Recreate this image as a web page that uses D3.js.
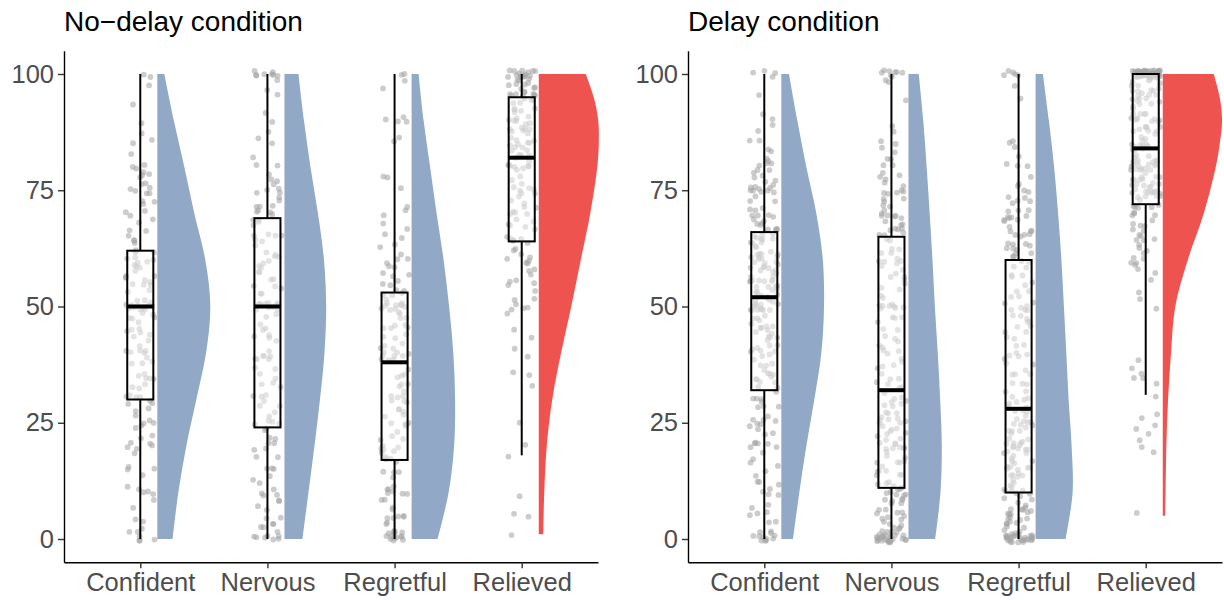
<!DOCTYPE html>
<html><head><meta charset="utf-8">
<script src="https://cdn.jsdelivr.net/npm/d3@7"></script>
<style>body{margin:0;background:#fff} text{font-family:"Liberation Sans",Arial,Helvetica,sans-serif}</style>
</head><body><svg id="chart" width="1224" height="600"></svg>
<script>
const categories = ["Confident","Nervous","Regretful","Relieved"];
const panelTitles = ["No−delay condition","Delay condition"];
const yTicks = [0,25,50,75,100];

// ---- ratings (jittered points), No-delay condition ----
const noDelayConfident = [100,100,98,93,90,88,86,85,82,81,80,80,79,78,78,77,77,76,76,75,75,75,74,73,72,72,71,70,70,69,68,67,66,65,64,64,63,
62,62,61,61,60,60,60,60,59,59,58,58,57,57,56,56,55,55,55,54,54,53,53,52,52,51,51,50,50,50,50,50,50,50,50,50,50,50,
49,48,48,47,46,45,45,45,44,43,42,42,41,40,40,40,40,39,38,37,36,35,35,35,34,33,33,32,31,30,30,30,30,31,38,44,47,
29,28,27,26,25,25,25,25,24,23,22,21,20,20,20,19,18,16,15,15,14,12,11,10,10,9,8,6,5,4,3,2,1,0,0,0,0];
const noDelayNervous = [100,100,100,100,100,100,100,99,98,97,95,92,90,88,86,85,82,80,80,79,78,77,76,75,75,75,75,74,73,72,72,71,70,70,70,70,69,
68,68,67,66,65,65,65,64,63,62,61,60,60,60,60,59,58,57,56,55,55,55,54,53,52,51,50,50,50,50,50,50,50,50,50,50,66,58,
49,48,47,46,45,45,44,43,42,41,40,40,40,39,38,37,36,35,35,34,33,32,31,30,30,30,29,28,27,26,25,25,25,25,24,44,38,
23,22,21,20,20,20,19,18,17,16,15,15,14,13,12,11,10,10,10,9,8,7,6,5,5,4,3,3,2,1,1,0,0,0,0,0,0];
const noDelayRegretful = [100,100,99,97,91,90,90,90,86,85,78,77,75,72,70,70,68,66,65,64,63,62,61,60,60,60,59,58,57,57,56,55,55,55,54,54,53,
53,52,52,51,51,50,50,50,50,50,50,50,49,48,48,47,46,45,45,45,44,43,42,42,41,40,40,40,40,39,39,38,38,38,46,44,41,49,
37,36,35,35,34,33,32,31,30,30,30,30,29,28,27,26,25,25,25,25,24,23,22,21,20,20,20,20,19,18,18,17,17,33,28,22,27,
16,15,15,14,13,12,11,10,10,10,10,9,8,8,7,6,5,5,5,4,4,3,3,2,2,2,1,1,1,0,0,0,0,0,0,0,0,0];
const noDelayRelieved = [100,100,100,100,100,100,100,100,100,100,100,100,100,100,100,99,99,99,98,98,98,97,97,97,97,96,96,96,96,95,95,95,95,95,95,95,95,
94,94,93,93,92,92,91,91,90,90,90,90,90,89,89,88,88,87,87,86,86,85,85,85,85,85,84,84,83,83,83,82,82,82,86,88,91,93,
81,80,80,80,80,80,79,79,78,77,76,75,75,75,75,75,74,73,72,71,70,70,70,70,69,68,68,67,66,65,65,65,64,64,77,72,67,
63,62,62,61,61,60,60,60,59,58,57,57,56,55,55,54,53,52,51,50,50,50,49,48,45,44,41,40,36,35,33,25,20,18,9,6,4,1];

// ---- ratings (jittered points), Delay condition ----
const delayConfident = [100,100,100,100,96,92,90,89,88,86,85,84,83,82,82,81,80,80,80,80,79,78,78,77,77,76,76,75,75,75,75,75,75,74,74,73,72,72,71,71,70,70,70,70,70,69,69,68,68,68,67,67,67,66,66,
65,65,65,64,64,63,63,62,62,61,61,60,60,60,60,60,60,59,59,58,58,57,57,57,56,56,55,55,55,55,54,54,54,53,53,53,52,52,52,52,65,63,61,59,57,55,53,64,62,58,56,54,60,60,55,
51,51,50,50,50,50,50,50,50,50,50,50,49,49,48,48,47,47,46,46,45,45,45,44,44,43,43,42,42,41,41,40,40,40,40,39,39,38,38,37,37,36,36,35,35,35,34,34,33,33,32,32,47,43,38,
31,30,30,30,29,28,28,27,26,25,25,25,25,24,24,23,22,21,20,20,20,20,19,18,17,16,15,15,14,13,12,11,10,10,10,9,8,7,6,5,5,4,3,2,2,1,1,0,0,0,0,0,0,0,0];
const delayNervous = [100,100,100,100,100,100,100,100,99,98,94,88,87,86,85,83,82,81,80,80,79,78,77,76,75,75,75,75,74,73,72,72,71,70,70,70,70,69,69,68,68,67,67,66,66,66,65,65,76,73,71,69,67,78,84,
64,63,62,61,60,60,60,60,59,58,57,56,55,55,54,53,52,51,50,50,50,50,50,50,49,48,47,46,45,45,44,43,42,41,40,40,40,39,38,37,36,35,35,34,33,32,32,62,57,52,47,43,38,34,58,
31,30,30,30,29,28,27,26,25,25,25,25,24,23,22,21,20,20,20,20,19,18,17,16,15,15,15,14,13,12,12,11,11,28,26,22,18,14,24,21,17,13,30,27,23,19,16,29,20,25,15,12,19,22,26,
10,10,10,10,9,9,8,8,7,7,6,6,5,5,5,5,4,4,3,3,3,2,2,2,1,1,1,1,0,0,0,0,0,0,0,0,0,0,0,0,0,0,0,0,0,0,0,0,0,0,2,4,6,8,10];
const delayRegretful = [100,100,100,100,100,97,95,86,85,84,82,81,80,80,78,77,76,75,75,74,73,72,71,70,70,70,70,69,68,68,67,67,66,66,65,65,65,64,64,63,63,62,62,62,61,61,61,60,60,72,69,66,63,74,68,
59,58,57,56,55,55,54,53,52,51,50,50,50,50,50,49,48,47,46,45,45,44,43,42,41,40,40,40,39,38,37,36,35,35,34,33,32,31,30,30,30,29,29,28,28,56,52,47,43,38,33,31,44,48,36,
27,26,25,25,25,25,24,23,22,21,20,20,20,20,19,18,17,16,15,15,15,14,13,12,11,10,10,26,24,22,19,17,14,12,11,23,21,18,16,13,27,25,20,15,10,22,18,12,24,19,16,11,21,14,17,
9,9,8,8,7,7,6,6,5,5,5,5,4,4,3,3,3,2,2,2,1,1,1,1,0,0,0,0,0,0,0,0,0,0,0,0,0,0,0,0,0,0,0,0,0,0,0,3,5,7,2,4,6,8,9];
const delayRelieved = [100,100,100,100,100,100,100,100,100,100,100,100,100,100,100,100,100,100,100,100,100,100,100,100,100,100,100,100,100,100,
100,100,100,100,100,100,100,100,100,100,100,100,100,100,100,100,100,100,100,100,100,100,100,100,100,100,100,100,99,99,
99,98,98,97,97,96,96,95,95,95,95,95,94,94,93,93,92,92,91,91,90,90,90,90,90,90,89,89,88,88,88,87,87,86,86,85,85,85,85,85,85,84,84,84,97,93,89,86,92,96,91,87,94,88,98,
83,83,82,82,81,81,80,80,80,80,80,80,79,79,78,78,77,77,76,76,75,75,75,75,75,75,74,74,73,73,72,72,72,83,81,79,77,75,73,82,78,76,74,80,80,79,77,73,75,81,78,74,76,82,72,
71,70,70,70,70,69,68,68,67,66,65,65,65,64,63,62,61,60,60,60,59,58,57,55,53,51,50,38,37,36,35,34,33,31,27,26,25,24,22,21,19,18,5,68,66,63,62];

// ---- boxplot statistics [lower whisker, Q1, median, Q3, upper whisker] ----
const noDelayBox = [[0,30,50,62,100],[0,24,50,69,100],[0,17,38,53,100],[18,64,82,95,100]];
const delayBox   = [[0,32,52,66,100],[0,11,32,65,100],[0,10,28,60,100],[31,72,84,100,100]];

// ---- half-violin densities [rating, density] ----
const noDelayDensity = [
  [[0,15.3],[10,21],[20,29],[30,39],[40,48.7],[50,53],[60,48],[70,37],[80,27],[90,16.5],[100,7]],
  [[0,18],[10,24],[20,30],[30,35.5],[40,40],[50,41.7],[60,39.5],[70,33.5],[80,26],[90,19.5],[100,14]],
  [[0,26],[10,37],[20,42.5],[30,43.5],[40,41.7],[50,37.5],[60,32],[70,25],[80,18.5],[90,12],[100,7]],
  [[1,4.5],[10,5.5],[20,8],[30,13.5],[40,22.3],[50,32.5],[60,42],[70,51.5],[80,58.5],[85,60],[90,59.5],[95,55],[100,47]]
];
const delayDensity = [
  [[0,11.7],[10,18],[20,25],[30,33],[40,40],[50,42.7],[60,41.5],[70,35],[80,25],[90,16],[100,7.7]],
  [[0,26.7],[10,32],[20,33.3],[30,31.7],[40,29.3],[50,26.4],[60,24],[70,21.2],[80,18.2],[90,14.8],[100,10.3]],
  [[0,30],[10,37],[20,36],[30,33],[40,30.7],[50,28.3],[60,25.8],[70,22.5],[80,18.5],[90,13.3],[100,7.3]],
  [[5,2.3],[10,2.8],[20,3.6],[30,5.3],[40,8.3],[50,12.5],[60,25],[70,41],[80,53],[85,57],[90,59.3],[95,57],[100,51]]
];

const pointsByPanel = [
  [noDelayConfident,noDelayNervous,noDelayRegretful,noDelayRelieved],
  [delayConfident,delayNervous,delayRegretful,delayRelieved]
];
const boxByPanel = [noDelayBox, delayBox];
const densityByPanel = [noDelayDensity, delayDensity];

// ---- drawing ----
const svg = d3.select("#chart");
const panelRanges = [[64,598],[688,1222]];
const violinFill = c => c === "Relieved" ? "#ef5350" : "#91a8c7";
const y = d3.scaleLinear().domain([-5,105]).range([562.25,50.75]);
const wScale = d3.scaleLinear().domain([0,60]).range([0,60]);
const rng = d3.randomLcg(0.1234);
const jitX = d3.randomUniform.source(rng)(-0.115,0.115);
const jitY = d3.randomUniform.source(rng)(-0.8,0.8);

panelTitles.forEach((title,pi)=>{
  const [x0,x1] = panelRanges[pi];
  const x = d3.scalePoint().domain(categories).range([x0,x1]).padding(0.6);
  const step = x.step();
  const g = svg.append("g");

  categories.forEach((c,ci)=>{
    const base = x(c) + 0.134*step;
    const area = d3.area().curve(d3.curveCatmullRom.alpha(0.5))
      .y(d=>y(d[0])).x0(base).x1(d=>base + wScale(d[1]));
    g.append("path").attr("d", area(densityByPanel[pi][ci])).attr("fill", violinFill(c));
  });

  categories.forEach((c,ci)=>{
    g.append("g").selectAll("circle").data(pointsByPanel[pi][ci]).join("circle")
      .attr("cx", ()=> x(c) + jitX()*step)
      .attr("cy", d=> y(d + jitY()))
      .attr("r", 2.9)
      .attr("fill", "#a3a3a3").attr("fill-opacity", 0.55);
  });

  const bw = 0.205*step;
  categories.forEach((c,ci)=>{
    const [lo,q1,med,q3,hi] = boxByPanel[pi][ci];
    const cx = x(c);
    const bg = g.append("g");
    bg.append("line").attr("x1",cx).attr("x2",cx).attr("y1",y(q3)).attr("y2",y(hi))
      .attr("stroke","#000").attr("stroke-width",2);
    bg.append("line").attr("x1",cx).attr("x2",cx).attr("y1",y(q1)).attr("y2",y(lo))
      .attr("stroke","#000").attr("stroke-width",2);
    bg.append("rect").attr("x",cx-bw/2).attr("width",bw).attr("y",y(q3)).attr("height",y(q1)-y(q3))
      .attr("fill","#fff").attr("fill-opacity",0.45).attr("stroke","#000").attr("stroke-width",2);
    bg.append("line").attr("x1",cx-bw/2).attr("x2",cx+bw/2).attr("y1",y(med)).attr("y2",y(med))
      .attr("stroke","#000").attr("stroke-width",4);
  });

  const ya = g.append("g").attr("transform",`translate(${x0},0)`)
    .call(d3.axisLeft(y).tickValues(yTicks).tickSize(6).tickSizeOuter(0).tickPadding(4));
  const xa = g.append("g").attr("transform",`translate(0,${y(-5)})`)
    .call(d3.axisBottom(x).tickSize(6).tickSizeOuter(0).tickPadding(5));
  [ya,xa].forEach(a=>{
    a.select(".domain").attr("stroke","#000").attr("stroke-width",1.4);
    a.selectAll(".tick line").attr("stroke","#333").attr("stroke-width",1.4);
    a.selectAll(".tick text").attr("fill","#4d4d4d").style("font-size","25.5px")
      .style("font-family",'"Liberation Sans",Arial,sans-serif');
  });

  g.append("text").attr("x",x0).attr("y",31).text(title)
    .style("font-size","28px").attr("fill","#000");
});
</script></body></html>
